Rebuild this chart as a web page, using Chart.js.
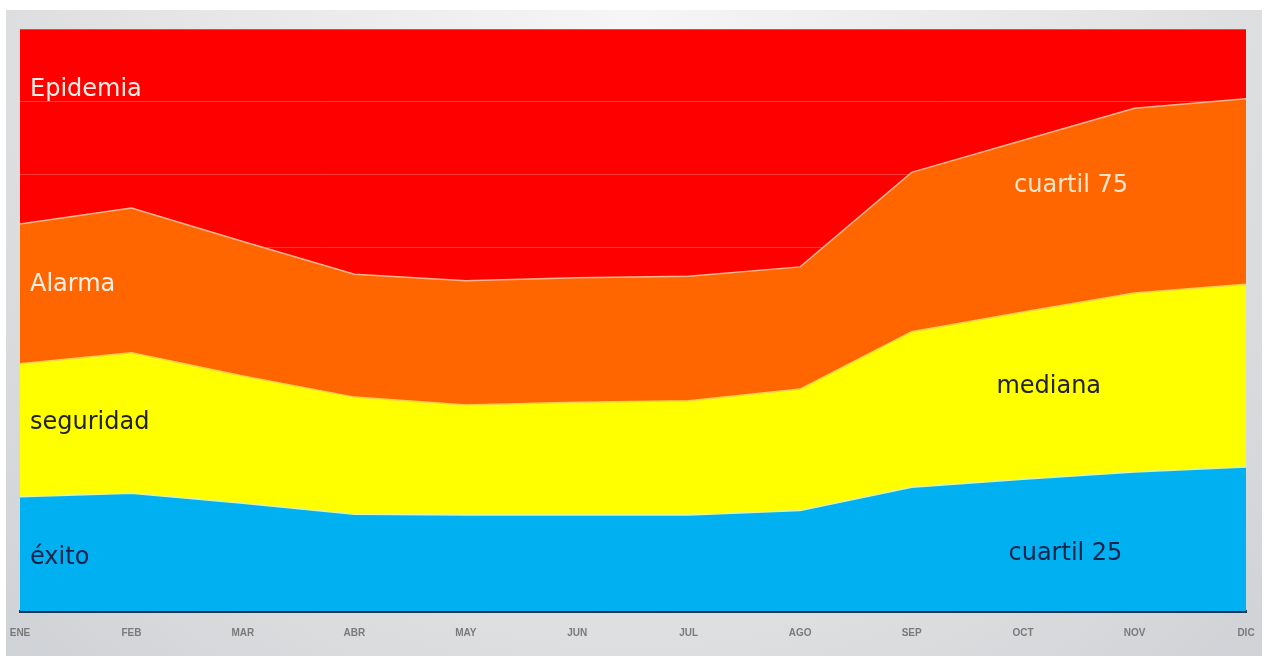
<!DOCTYPE html>
<html>
<head>
<meta charset="utf-8">
<script src="https://cdn.jsdelivr.net/npm/chart.js@4.4.1/dist/chart.umd.min.js"></script>
<style>
  html, body { margin: 0; padding: 0; background: #ffffff; }
  #wrap { position: relative; width: 1269px; height: 656px; overflow: hidden; }
  #panel {
    position: absolute; left: 6px; top: 10px; width: 1256px; height: 646px;
    background: radial-gradient(ellipse at 50% 0%, #f6f6f6 0%, #e4e4e4 55%, #cfd2d6 100%);
  }
  #chart { position: absolute; left: 0; top: 0; }
</style>
</head>
<body>
<div id="wrap">
  <div id="panel"></div>
  <canvas id="chart" width="1269" height="656"></canvas>
</div>
<script>
// months
const meses = ['ENE', 'FEB', 'MAR', 'ABR', 'MAY', 'JUN', 'JUL', 'AGO', 'SEP', 'OCT', 'NOV', 'DIC'];

// corridor limits (arbitrary units, axis hidden)
const cuartil25 = [1.57, 1.62, 1.48, 1.33, 1.32, 1.32, 1.32, 1.38, 1.70, 1.81, 1.91, 1.98];
const mediana   = [3.40, 3.55, 3.23, 2.94, 2.83, 2.87, 2.89, 3.05, 3.84, 4.11, 4.37, 4.49];
const cuartil75 = [5.32, 5.54, 5.08, 4.63, 4.54, 4.58, 4.60, 4.73, 6.03, 6.47, 6.91, 7.04];

// zone names written on the chart
const zonas = [
  { text: 'Epidemia',   x: 0,    y: 7.16, align: 'left',   color: '#fff0e6' },
  { text: 'Alarma',     x: 0,    y: 4.49, align: 'left',   color: '#fff0e6' },
  { text: 'seguridad',  x: 0,    y: 2.59, align: 'left',   color: '#222222' },
  { text: 'éxito',      x: 0,    y: 0.73, align: 'left',   color: '#13234a' },
  { text: 'cuartil 75', x: 9.43, y: 5.85, align: 'center', color: '#ffe6cc' },
  { text: 'mediana',    x: 9.23, y: 3.08, align: 'center', color: '#222222' },
  { text: 'cuartil 25', x: 9.38, y: 0.78, align: 'center', color: '#13234a' }
];

// red "epidemia" zone = everything above cuartil 75, painted as plot background
const zonaRoja = {
  id: 'zonaRoja',
  beforeDraw(chart) {
    const a = chart.chartArea;
    const ctx = chart.ctx;
    ctx.save();
    ctx.fillStyle = '#ff0000';
    ctx.fillRect(a.left, a.top, a.right - a.left, a.bottom - a.top);
    ctx.restore();
  }
};

const textos = {
  id: 'textos',
  afterDatasetsDraw(chart) {
    const ctx = chart.ctx;
    const xs = chart.scales.x, ys = chart.scales.y;
    ctx.save();
    ctx.font = '24px "Comic Sans MS", "DejaVu Sans", sans-serif';
    ctx.textBaseline = 'middle';
    zonas.forEach(z => {
      let px = xs.getPixelForValue(z.x);
      if (z.align === 'left') px += 10;
      ctx.textAlign = z.align;
      ctx.fillStyle = z.color;
      ctx.fillText(z.text, px, ys.getPixelForValue(z.y));
    });
    ctx.restore();
  }
};

new Chart(document.getElementById('chart'), {
  type: 'line',
  data: {
    labels: meses,
    datasets: [
      {
        label: 'cuartil 25',
        data: cuartil25,
        fill: 'origin',
        backgroundColor: '#00b0f0',
        borderColor: '#d8f4b0',
        borderWidth: 1.5,
        pointRadius: 0,
        tension: 0
      },
      {
        label: 'mediana',
        data: mediana,
        fill: '-1',
        backgroundColor: '#ffff00',
        borderColor: '#ffd24a',
        borderWidth: 1.5,
        pointRadius: 0,
        tension: 0
      },
      {
        label: 'cuartil 75',
        data: cuartil75,
        fill: '-1',
        backgroundColor: '#ff6600',
        borderColor: '#ffb690',
        borderWidth: 1.5,
        pointRadius: 0,
        tension: 0
      }
    ]
  },
  options: {
    responsive: false,
    animation: false,
    layout: { padding: { left: 20, right: 23, top: 29, bottom: 1 } },
    plugins: {
      legend: { display: false },
      tooltip: { enabled: false }
    },
    scales: {
      x: {
        offset: false,
        z: 1,
        // let the end labels hang past the plot edges, like the original
        afterFit(scale) { scale.paddingLeft = 0; scale.paddingRight = 0; },
        grid: { display: false, drawTicks: false },
        border: { display: true, color: '#1f3550', width: 3 },
        ticks: {
          padding: 16,
          maxRotation: 0,
          autoSkip: false,
          color: '#7a7a7a',
          font: { family: 'Liberation Sans', size: 10, weight: 'bold' }
        }
      },
      y: {
        min: 0,
        max: 8,
        grid: { color: 'rgba(255,120,120,0.5)', lineWidth: 1, drawTicks: false },
        border: { display: false },
        ticks: { display: false, stepSize: 1 }
      }
    }
  },
  plugins: [zonaRoja, textos]
});
</script>
</body>
</html>
